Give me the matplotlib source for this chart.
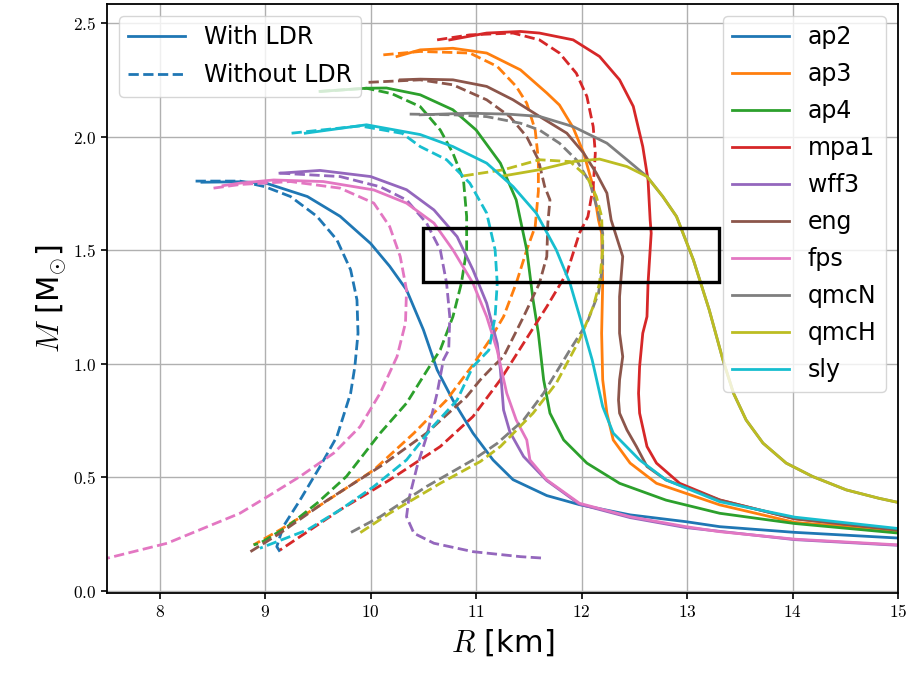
import matplotlib
matplotlib.use("Agg")
import matplotlib.pyplot as plt
from matplotlib.lines import Line2D
from matplotlib.patches import Rectangle
from matplotlib.ticker import FuncFormatter

plt.rcParams['mathtext.fontset'] = 'cm'
plt.rcParams['font.family'] = ['DejaVu Sans']

# ---------------- data (R in km, M in Msun) ----------------
eos_names = ["ap2", "ap3", "ap4", "mpa1", "wff3", "eng", "fps", "qmcN", "qmcH", "sly"]

ap2_R_ldr = [8.40, 8.76, 9.00, 9.40, 9.71, 10.00, 10.18, 10.34, 10.50, 10.63, 10.78, 10.97, 11.16, 11.35, 11.67, 11.98, 12.46, 12.99, 13.31, 14.02, 15.00]
ap2_M_ldr = [1.800, 1.802, 1.797, 1.737, 1.650, 1.530, 1.430, 1.326, 1.150, 0.974, 0.840, 0.695, 0.577, 0.490, 0.420, 0.380, 0.335, 0.305, 0.283, 0.258, 0.233]
ap2_R_no = [8.34, 8.76, 9.00, 9.24, 9.49, 9.68, 9.81, 9.87, 9.88, 9.85, 9.81, 9.68, 9.52, 9.33, 9.17, 9.11, 9.14]
ap2_M_no = [1.805, 1.805, 1.780, 1.737, 1.650, 1.546, 1.414, 1.282, 1.135, 0.988, 0.871, 0.680, 0.548, 0.400, 0.283, 0.195, 0.173]

ap3_R_ldr = [10.25, 10.47, 10.78, 11.10, 11.42, 11.67, 11.79, 11.92, 12.02, 12.11, 12.16, 12.19, 12.20, 12.19, 12.20, 12.24, 12.30, 12.46, 12.71, 13.31, 14.02, 15.00]
ap3_M_ldr = [2.354, 2.383, 2.390, 2.369, 2.295, 2.193, 2.140, 2.040, 1.928, 1.780, 1.634, 1.576, 1.355, 1.135, 0.930, 0.783, 0.665, 0.563, 0.474, 0.379, 0.302, 0.265]
ap3_R_no = [10.12, 10.47, 10.94, 11.20, 11.38, 11.48, 11.56, 11.59, 11.59, 11.56, 11.48, 11.38, 11.26, 11.13, 10.97, 10.72, 10.41, 10.03, 9.55, 9.14, 8.89]
ap3_M_no = [2.361, 2.376, 2.369, 2.310, 2.222, 2.148, 2.030, 1.899, 1.760, 1.605, 1.502, 1.355, 1.208, 1.106, 0.996, 0.841, 0.695, 0.533, 0.386, 0.269, 0.203]

ap4_R_ldr = [9.52, 9.96, 10.15, 10.47, 10.78, 11.00, 11.23, 11.38, 11.48, 11.54, 11.59, 11.64, 11.70, 11.83, 12.05, 12.36, 12.80, 13.31, 14.02, 15.00]
ap4_M_ldr = [2.200, 2.214, 2.215, 2.185, 2.119, 2.030, 1.884, 1.722, 1.502, 1.282, 1.135, 0.930, 0.783, 0.665, 0.563, 0.474, 0.400, 0.342, 0.297, 0.255]
ap4_R_no = [9.52, 9.96, 10.20, 10.47, 10.66, 10.78, 10.88, 10.91, 10.91, 10.86, 10.78, 10.66, 10.56, 10.34, 10.09, 9.77, 9.49, 9.21, 8.95, 8.89]
ap4_M_no = [2.200, 2.214, 2.190, 2.133, 2.030, 1.928, 1.810, 1.649, 1.502, 1.355, 1.208, 1.062, 0.990, 0.827, 0.695, 0.504, 0.386, 0.283, 0.210, 0.203]

mpa1_R_ldr = [10.75, 11.10, 11.42, 11.60, 11.92, 12.17, 12.36, 12.49, 12.58, 12.63, 12.65, 12.66, 12.63, 12.62, 12.58, 12.55, 12.54, 12.55, 12.62, 12.71, 12.93, 13.31, 14.02, 15.00]
mpa1_M_ldr = [2.427, 2.457, 2.464, 2.457, 2.427, 2.354, 2.251, 2.134, 1.957, 1.810, 1.634, 1.576, 1.355, 1.208, 1.135, 0.988, 0.870, 0.783, 0.636, 0.563, 0.474, 0.401, 0.318, 0.270]
mpa1_R_no = [10.63, 10.94, 11.35, 11.60, 11.79, 11.95, 12.05, 12.11, 12.13, 12.11, 12.06, 11.98, 11.86, 11.67, 11.45, 11.23, 10.97, 10.66, 10.18, 9.71, 9.14]
mpa1_M_no = [2.427, 2.449, 2.457, 2.427, 2.369, 2.280, 2.178, 2.045, 1.928, 1.780, 1.649, 1.576, 1.400, 1.252, 1.091, 0.930, 0.768, 0.636, 0.489, 0.357, 0.180]

wff3_R_ldr = [9.14, 9.52, 10.00, 10.34, 10.60, 10.82, 10.97, 11.10, 11.20, 11.23, 11.26, 11.32, 11.45, 11.67, 11.98, 12.46, 12.99, 14.02, 15.00]
wff3_M_ldr = [1.840, 1.852, 1.825, 1.767, 1.678, 1.560, 1.414, 1.267, 1.090, 0.974, 0.797, 0.700, 0.592, 0.486, 0.382, 0.323, 0.279, 0.226, 0.201]
wff3_R_no = [9.14, 9.71, 10.09, 10.34, 10.53, 10.66, 10.72, 10.75, 10.74, 10.69, 10.63, 10.53, 10.44, 10.36, 10.34, 10.41, 10.60, 10.97, 11.42, 11.62]
wff3_M_no = [1.840, 1.825, 1.780, 1.722, 1.620, 1.502, 1.355, 1.208, 1.062, 1.018, 0.871, 0.680, 0.548, 0.400, 0.327, 0.254, 0.210, 0.173, 0.151, 0.145]

eng_R_ldr = [10.28, 10.47, 10.78, 11.10, 11.35, 11.60, 11.86, 12.02, 12.14, 12.24, 12.28, 12.31, 12.39, 12.36, 12.36, 12.39, 12.36, 12.35, 12.36, 12.43, 12.52, 12.62, 12.80, 13.31, 14.02, 15.00]
eng_M_ldr = [2.251, 2.254, 2.251, 2.222, 2.163, 2.090, 2.016, 1.928, 1.840, 1.752, 1.634, 1.590, 1.473, 1.296, 1.135, 1.032, 0.930, 0.841, 0.783, 0.709, 0.636, 0.548, 0.489, 0.400, 0.318, 0.268]
eng_R_no = [9.98, 10.47, 10.78, 11.10, 11.32, 11.48, 11.59, 11.65, 11.70, 11.68, 11.67, 11.60, 11.45, 11.26, 11.16, 11.04, 10.91, 10.53, 10.09, 9.59, 9.14, 8.86]
eng_M_no = [2.240, 2.251, 2.229, 2.163, 2.089, 2.000, 1.899, 1.781, 1.722, 1.620, 1.473, 1.355, 1.208, 1.032, 0.988, 0.930, 0.856, 0.695, 0.548, 0.400, 0.254, 0.173]

fps_R_ldr = [8.60, 8.76, 9.08, 9.55, 10.03, 10.34, 10.60, 10.78, 10.97, 11.10, 11.20, 11.24, 11.29, 11.38, 11.48, 11.51, 11.67, 11.98, 12.46, 12.99, 13.31, 14.02, 15.00]
fps_M_ldr = [1.785, 1.796, 1.810, 1.803, 1.766, 1.708, 1.620, 1.502, 1.355, 1.208, 1.060, 0.974, 0.871, 0.753, 0.665, 0.577, 0.489, 0.386, 0.327, 0.283, 0.261, 0.228, 0.203]
fps_R_no = [8.51, 8.76, 9.24, 9.71, 10.03, 10.18, 10.28, 10.34, 10.33, 10.25, 10.09, 9.90, 9.65, 9.33, 9.02, 8.76, 8.07, 7.50, 7.40]
fps_M_no = [1.774, 1.790, 1.803, 1.774, 1.708, 1.605, 1.473, 1.326, 1.180, 1.032, 0.871, 0.724, 0.607, 0.504, 0.415, 0.342, 0.210, 0.144, 0.135]

qmcN_R_ldr = [10.47, 10.94, 11.30, 11.60, 11.92, 12.24, 12.43, 12.62, 12.77, 12.90, 13.06, 13.21, 13.34, 13.44, 13.56, 13.72, 13.94, 14.19, 14.51, 14.82, 15.00]
qmcN_M_ldr = [2.097, 2.104, 2.100, 2.090, 2.045, 1.972, 1.899, 1.825, 1.737, 1.649, 1.458, 1.238, 1.018, 0.871, 0.753, 0.651, 0.563, 0.504, 0.445, 0.408, 0.390]
qmcN_R_no = [10.37, 10.78, 11.10, 11.42, 11.60, 11.79, 11.95, 12.08, 12.16, 12.20, 12.20, 12.16, 12.05, 11.89, 11.64, 11.45, 11.20, 10.97, 10.53, 10.09, 9.81]
qmcN_M_no = [2.100, 2.097, 2.089, 2.060, 2.030, 1.972, 1.899, 1.796, 1.664, 1.576, 1.429, 1.311, 1.179, 1.062, 0.871, 0.753, 0.650, 0.577, 0.460, 0.327, 0.257]

qmcH_R_ldr = [11.26, 11.60, 11.92, 12.17, 12.43, 12.62, 12.77, 12.90, 13.06, 13.21, 13.34, 13.44, 13.56, 13.72, 13.94, 14.19, 14.51, 14.82, 15.00]
qmcH_M_ldr = [1.828, 1.855, 1.891, 1.902, 1.869, 1.825, 1.737, 1.649, 1.458, 1.238, 1.018, 0.871, 0.753, 0.651, 0.563, 0.504, 0.445, 0.408, 0.390]
qmcH_R_no = [10.88, 11.26, 11.60, 11.89, 12.05, 12.14, 12.19, 12.20, 12.17, 12.11, 11.98, 11.76, 11.54, 11.23, 11.04, 10.66, 10.18, 9.87]
qmcH_M_no = [1.828, 1.855, 1.899, 1.891, 1.825, 1.737, 1.649, 1.502, 1.355, 1.252, 1.106, 0.915, 0.783, 0.636, 0.570, 0.474, 0.342, 0.247]

sly_R_ldr = [9.38, 9.96, 10.47, 10.78, 11.10, 11.35, 11.57, 11.76, 11.89, 12.01, 12.10, 12.20, 12.30, 12.55, 12.80, 13.31, 14.02, 15.00]
sly_M_ldr = [2.016, 2.053, 2.010, 1.957, 1.884, 1.781, 1.664, 1.502, 1.355, 1.164, 1.018, 0.812, 0.695, 0.577, 0.489, 0.393, 0.325, 0.275]
sly_R_no = [9.25, 9.90, 10.30, 10.47, 10.72, 10.94, 11.10, 11.18, 11.20, 11.18, 11.12, 10.97, 10.91, 10.82, 10.59, 10.34, 10.03, 9.71, 9.40, 8.95]
sly_M_no = [2.016, 2.048, 2.015, 1.957, 1.899, 1.796, 1.664, 1.502, 1.355, 1.208, 1.060, 0.988, 0.930, 0.841, 0.724, 0.577, 0.460, 0.357, 0.269, 0.188]

box_R = [10.5, 13.3]
box_M = [1.36, 1.60]

x_ticks = [8, 9, 10, 11, 12, 13, 14, 15]
y_ticks = [0.0, 0.5, 1.0, 1.5, 2.0, 2.5]

curves = [
    (ap2_R_ldr, ap2_M_ldr, ap2_R_no, ap2_M_no),
    (ap3_R_ldr, ap3_M_ldr, ap3_R_no, ap3_M_no),
    (ap4_R_ldr, ap4_M_ldr, ap4_R_no, ap4_M_no),
    (mpa1_R_ldr, mpa1_M_ldr, mpa1_R_no, mpa1_M_no),
    (wff3_R_ldr, wff3_M_ldr, wff3_R_no, wff3_M_no),
    (eng_R_ldr, eng_M_ldr, eng_R_no, eng_M_no),
    (fps_R_ldr, fps_M_ldr, fps_R_no, fps_M_no),
    (qmcN_R_ldr, qmcN_M_ldr, qmcN_R_no, qmcN_M_no),
    (qmcH_R_ldr, qmcH_M_ldr, qmcH_R_no, qmcH_M_no),
    (sly_R_ldr, sly_M_ldr, sly_R_no, sly_M_no),
]

# ---------------- plot ----------------
fig = plt.figure(figsize=(9.10, 6.77), dpi=100)
ax = fig.add_axes([0.1176, 0.1241, 0.8692, 0.8700])

colors = [f"C{i}" for i in range(10)]
handles = []
for name, col, (rl, ml, rn, mn) in zip(eos_names, colors, curves):
    h, = ax.plot(rl, ml, color=col, lw=2, ls='-', label=name)
    ax.plot(rn, mn, color=col, lw=2, ls='--')
    handles.append(h)

ax.add_patch(Rectangle((box_R[0], box_M[0]), box_R[1] - box_R[0], box_M[1] - box_M[0],
                       fill=False, edgecolor='black', lw=2.4, zorder=5))

ax.set_xlim(7.5, 15)
ax.set_ylim(-0.009, 2.585)
ax.set_xticks(x_ticks)
ax.set_yticks(y_ticks)
ax.xaxis.set_major_formatter(FuncFormatter(lambda v, p: f"${v:g}$"))
ax.yaxis.set_major_formatter(FuncFormatter(lambda v, p: f"${v:.1f}$"))
ax.tick_params(labelsize=12.5, direction='out', length=4, width=1.2, colors='black')
for s in ax.spines.values():
    s.set_linewidth(1.3)
ax.grid(True, color='#b0b0b0', lw=1.0)
ax.set_axisbelow(True)

ax.set_xlabel(r"$R$ [km]", fontsize=22)
ax.set_ylabel(r"$M$ [M$_{\odot}$]", fontsize=22)

leg1 = ax.legend(handles=[Line2D([], [], color='C0', lw=2, ls='-'),
                          Line2D([], [], color='C0', lw=2, ls='--')],
                 labels=["With LDR", "Without LDR"], loc='upper left',
                 fontsize=17, handlelength=2.4, labelspacing=0.6)
ax.add_artist(leg1)
ax.legend(handles=handles, labels=eos_names, loc='upper right', fontsize=17,
          handlelength=2.4, labelspacing=0.55)

fig.savefig("out.png", dpi=100)
